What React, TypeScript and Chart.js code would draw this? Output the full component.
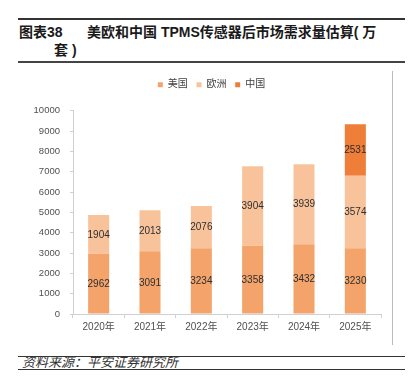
import React, { useEffect, useRef } from "react";
import { Chart, registerables } from "chart.js";

Chart.register(...registerables);

const categories = ["2020年", "2021年", "2022年", "2023年", "2024年", "2025年"];
const seriesNames = ["美国", "欧洲", "中国"];
const usValues = [2962, 3091, 3234, 3358, 3432, 3230];
const euValues = [1904, 2013, 2076, 3904, 3939, 3574];
const cnValues = [null, null, null, null, null, 2531];
const seriesColors = ["#F4A46B", "#F8C39B", "#EE7E38"];
const yMin = 0;
const yMax = 10000;
const yStep = 1000;

const FONT = '"Liberation Sans", "Noto Sans CJK SC", sans-serif';

const barLabels = {
  id: "barLabels",
  afterDatasetsDraw(chart: any) {
    const ctx = chart.ctx;
    ctx.save();
    ctx.font = `10px ${FONT}`;
    ctx.fillStyle = "#2e2e2e";
    ctx.textAlign = "center";
    ctx.textBaseline = "middle";
    chart.data.datasets.forEach((ds: any, i: number) => {
      const meta = chart.getDatasetMeta(i);
      meta.data.forEach((el: any, j: number) => {
        const v = ds.data[j];
        if (v == null) return;
        const p = el.getProps(["x", "y", "base"], true);
        ctx.fillText(String(v), p.x, (p.y + p.base) / 2 + 0.5);
      });
    });
    ctx.restore();
  },
};

const legendTweak = {
  id: "legendTweak",
  beforeInit(chart: any) {
    const orig = chart.legend.fit;
    chart.legend.fit = function () {
      orig.call(this);
      this.height += 11;
    };
  },
  afterLayout(chart: any) {
    chart.legend.left += 6;
    chart.legend.right += 6;
  },
};

function ChartBox() {
  const ref = useRef<HTMLCanvasElement>(null);
  useEffect(() => {
    if (!ref.current) return;
    const chart = new Chart(ref.current, {
      type: "bar",
      data: {
        labels: categories,
        datasets: [
          { label: seriesNames[0], data: usValues, backgroundColor: seriesColors[0] },
          { label: seriesNames[1], data: euValues, backgroundColor: seriesColors[1] },
          { label: seriesNames[2], data: cnValues as any, backgroundColor: seriesColors[2] },
        ],
      },
      options: {
        responsive: false,
        animation: false,
        devicePixelRatio: 1,
        layout: { padding: { top: 0, right: 11, bottom: 0, left: 0 } },
        datasets: {
          bar: { barPercentage: 0.41, categoryPercentage: 1 },
        } as any,
        plugins: {
          legend: {
            position: "top",
            align: "center",
            labels: {
              boxWidth: 5,
              boxHeight: 5,
              padding: 8.7,
              color: "#404040",
              font: { size: 10, family: FONT },
            },
          },
          tooltip: { enabled: false },
          title: { display: false },
        },
        scales: {
          x: {
            stacked: true,
            grid: {
              display: true,
              drawOnChartArea: false,
              drawTicks: true,
              tickLength: 4,
              offset: true,
              color: "#d0d0d0",
            },
            border: { display: true, color: "#d0d0d0" },
            ticks: {
              color: "#505050",
              font: { size: 10, family: FONT },
              padding: 3,
              maxRotation: 0,
            },
            afterFit(scale: any) {
              scale.height = 31;
            },
          },
          y: {
            stacked: true,
            min: yMin,
            max: yMax,
            grid: {
              display: true,
              drawOnChartArea: false,
              drawTicks: true,
              tickLength: 3,
              color: "#d0d0d0",
            },
            border: { display: true, color: "#d0d0d0" },
            ticks: {
              stepSize: yStep,
              color: "#505050",
              font: { size: 9.5, family: FONT },
              padding: 10,
              callback: (v: any) => String(v),
            },
            afterFit(scale: any) {
              scale.width = 43;
            },
          },
        },
      },
      plugins: [barLabels, legendTweak],
    });
    return () => chart.destroy();
  }, []);
  return (
    <canvas
      ref={ref}
      width={362}
      height={274}
      style={{ position: "absolute", left: 30, top: 71, width: 362, height: 274 }}
    />
  );
}

export default function App() {
  const titleFont = '"Liberation Sans", "Noto Sans CJK SC", sans-serif';
  const titleStyle: React.CSSProperties = {
    position: "absolute",
    lineHeight: "18px",
    fontSize: 14,
    fontWeight: "bold",
    color: "#1a1a1a",
    whiteSpace: "nowrap",
  };
  return (
    <div
      style={{
        position: "absolute",
        left: 0,
        top: 0,
        width: 412,
        height: 391,
        background: "#ffffff",
        overflow: "hidden",
        fontFamily: titleFont,
      }}
    >
      <div style={{ position: "absolute", left: 18, top: 18, width: 387, height: 1.5, background: "#333" }} />
      <div style={{ ...titleStyle, left: 19, top: 23 }}>图表38</div>
      <div style={{ ...titleStyle, left: 87, top: 23 }}>美欧和中国 TPMS传感器后市场需求量估算( 万</div>
      <div style={{ ...titleStyle, left: 54, top: 41 }}>套 )</div>
      <div style={{ position: "absolute", left: 18, top: 61, width: 387, height: 2, background: "#444" }} />
      <div style={{ position: "absolute", left: 392, top: 71, width: 1, height: 274, background: "#bbbbbb" }} />
      <ChartBox />
      <div style={{ position: "absolute", left: 18, top: 356, width: 387, height: 1, background: "#333" }} />
      <div
        style={{
          position: "absolute",
          left: 22,
          top: 356,
          lineHeight: "14px",
          fontSize: 13,
          fontStyle: "italic",
          fontWeight: "normal",
          color: "#333",
          whiteSpace: "nowrap",
        }}
      >
        资料来源：平安证券研究所
      </div>
      <div style={{ position: "absolute", left: 18, top: 369, width: 387, height: 1, background: "#333" }} />
    </div>
  );
}
